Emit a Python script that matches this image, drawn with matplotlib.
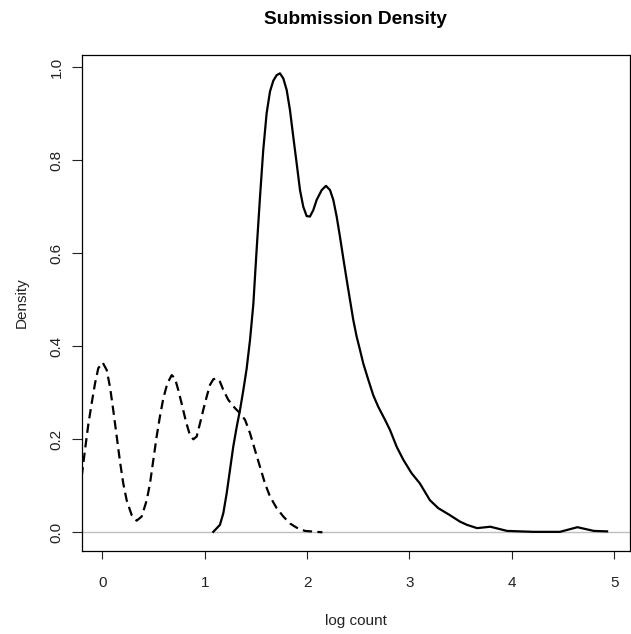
import matplotlib
matplotlib.use('Agg')
import matplotlib.pyplot as plt

plt.rc('font', family=['Liberation Sans', 'DejaVu Sans'])

# density of log count (solid)
solid_x = [1.084, 1.149, 1.182, 1.215, 1.247, 1.279, 1.313, 1.345, 1.377, 1.410, 1.443,
           1.475, 1.508, 1.540, 1.572, 1.605, 1.638, 1.670, 1.703, 1.735, 1.768, 1.801,
           1.833, 1.865, 1.898, 1.931, 1.963, 1.996, 2.028, 2.061, 2.094, 2.143, 2.185,
           2.224, 2.256, 2.289, 2.321, 2.356, 2.387, 2.419, 2.451, 2.484, 2.517, 2.549,
           2.598, 2.646, 2.695, 2.761, 2.810, 2.875, 2.940, 3.021, 3.102, 3.200, 3.281,
           3.394, 3.493, 3.562, 3.66, 3.79, 3.953, 4.21, 4.47, 4.64, 4.80, 4.93]
solid_y = [0.001, 0.016, 0.041, 0.084, 0.134, 0.184, 0.227, 0.263, 0.305, 0.352, 0.414,
           0.49, 0.61, 0.72, 0.822, 0.901, 0.948, 0.971, 0.983, 0.987, 0.976, 0.951,
           0.908, 0.851, 0.794, 0.736, 0.700, 0.680, 0.679, 0.693, 0.715, 0.736, 0.745,
           0.736, 0.715, 0.679, 0.636, 0.586, 0.543, 0.500, 0.457, 0.421, 0.392, 0.363,
           0.328, 0.295, 0.270, 0.242, 0.220, 0.184, 0.156, 0.127, 0.105, 0.069, 0.052,
           0.037, 0.023, 0.016, 0.009, 0.012, 0.003, 0.001, 0.001, 0.011, 0.003, 0.002]

# second density (dashed)
dash_x = [-0.201, -0.169, -0.137, -0.104, -0.071, -0.039, 0.004, 0.043, 0.075, 0.107,
          0.141, 0.173, 0.205, 0.238, 0.287, 0.336, 0.385, 0.434, 0.466, 0.498, 0.531,
          0.563, 0.596, 0.635, 0.678, 0.710, 0.742, 0.775, 0.817, 0.856, 0.889, 0.922,
          0.954, 0.986, 1.020, 1.052, 1.084, 1.117, 1.149, 1.182, 1.230, 1.296, 1.345,
          1.394, 1.443, 1.491, 1.540, 1.589, 1.638, 1.703, 1.768, 1.833, 1.898, 1.979,
          2.094, 2.15]
dash_y = [0.120, 0.177, 0.231, 0.277, 0.320, 0.353, 0.365, 0.349, 0.313, 0.263,
          0.206, 0.152, 0.105, 0.069, 0.037, 0.025, 0.034, 0.069, 0.105, 0.155, 0.206,
          0.249, 0.288, 0.320, 0.338, 0.331, 0.306, 0.277, 0.238, 0.209, 0.200, 0.206,
          0.234, 0.263, 0.292, 0.317, 0.329, 0.331, 0.324, 0.306, 0.285, 0.267, 0.256,
          0.242, 0.213, 0.177, 0.141, 0.105, 0.077, 0.052, 0.034, 0.019, 0.010, 0.003,
          0.001, 0.0]

xticks = [0, 1, 2, 3, 4, 5]
yticks = [0.0, 0.2, 0.4, 0.6, 0.8, 1.0]

fig = plt.figure(figsize=(6.31, 6.34), dpi=100)
ax = fig.add_axes([81.5/631, 1-551/634, 548/631, 496/634])

ax.axhline(0, color='#bebebe', lw=1.0, zorder=1)
ax.plot(solid_x, solid_y, color='black', lw=1.6)
ax.plot(dash_x, dash_y, color='black', lw=1.6, ls=(0, (4.2, 2.4)))

ax.set_xlim(-0.203, 5.149)
ax.set_ylim(-0.0402, 1.0264)
ax.set_xticks(xticks, [str(t) for t in xticks])
ax.set_yticks(yticks, ['%.1f' % t for t in yticks])
for lab in ax.get_yticklabels():
    lab.set_rotation(90)
    lab.set_va('center')
ax.tick_params(axis='x', length=6, width=0.8, pad=12, labelsize=11, colors='#222222')
ax.tick_params(axis='y', length=7, width=0.8, pad=6, labelsize=11, colors='#222222')
for s in ax.spines.values():
    s.set_linewidth(0.9)

ax.set_xlabel('log count', fontsize=11, color='#222222', labelpad=17)
ax.set_ylabel('Density', fontsize=11, color='#222222', labelpad=15)
ax.set_title('Submission Density', fontsize=13.8, fontweight='bold', pad=22)

fig.savefig('out.png', dpi=100)
